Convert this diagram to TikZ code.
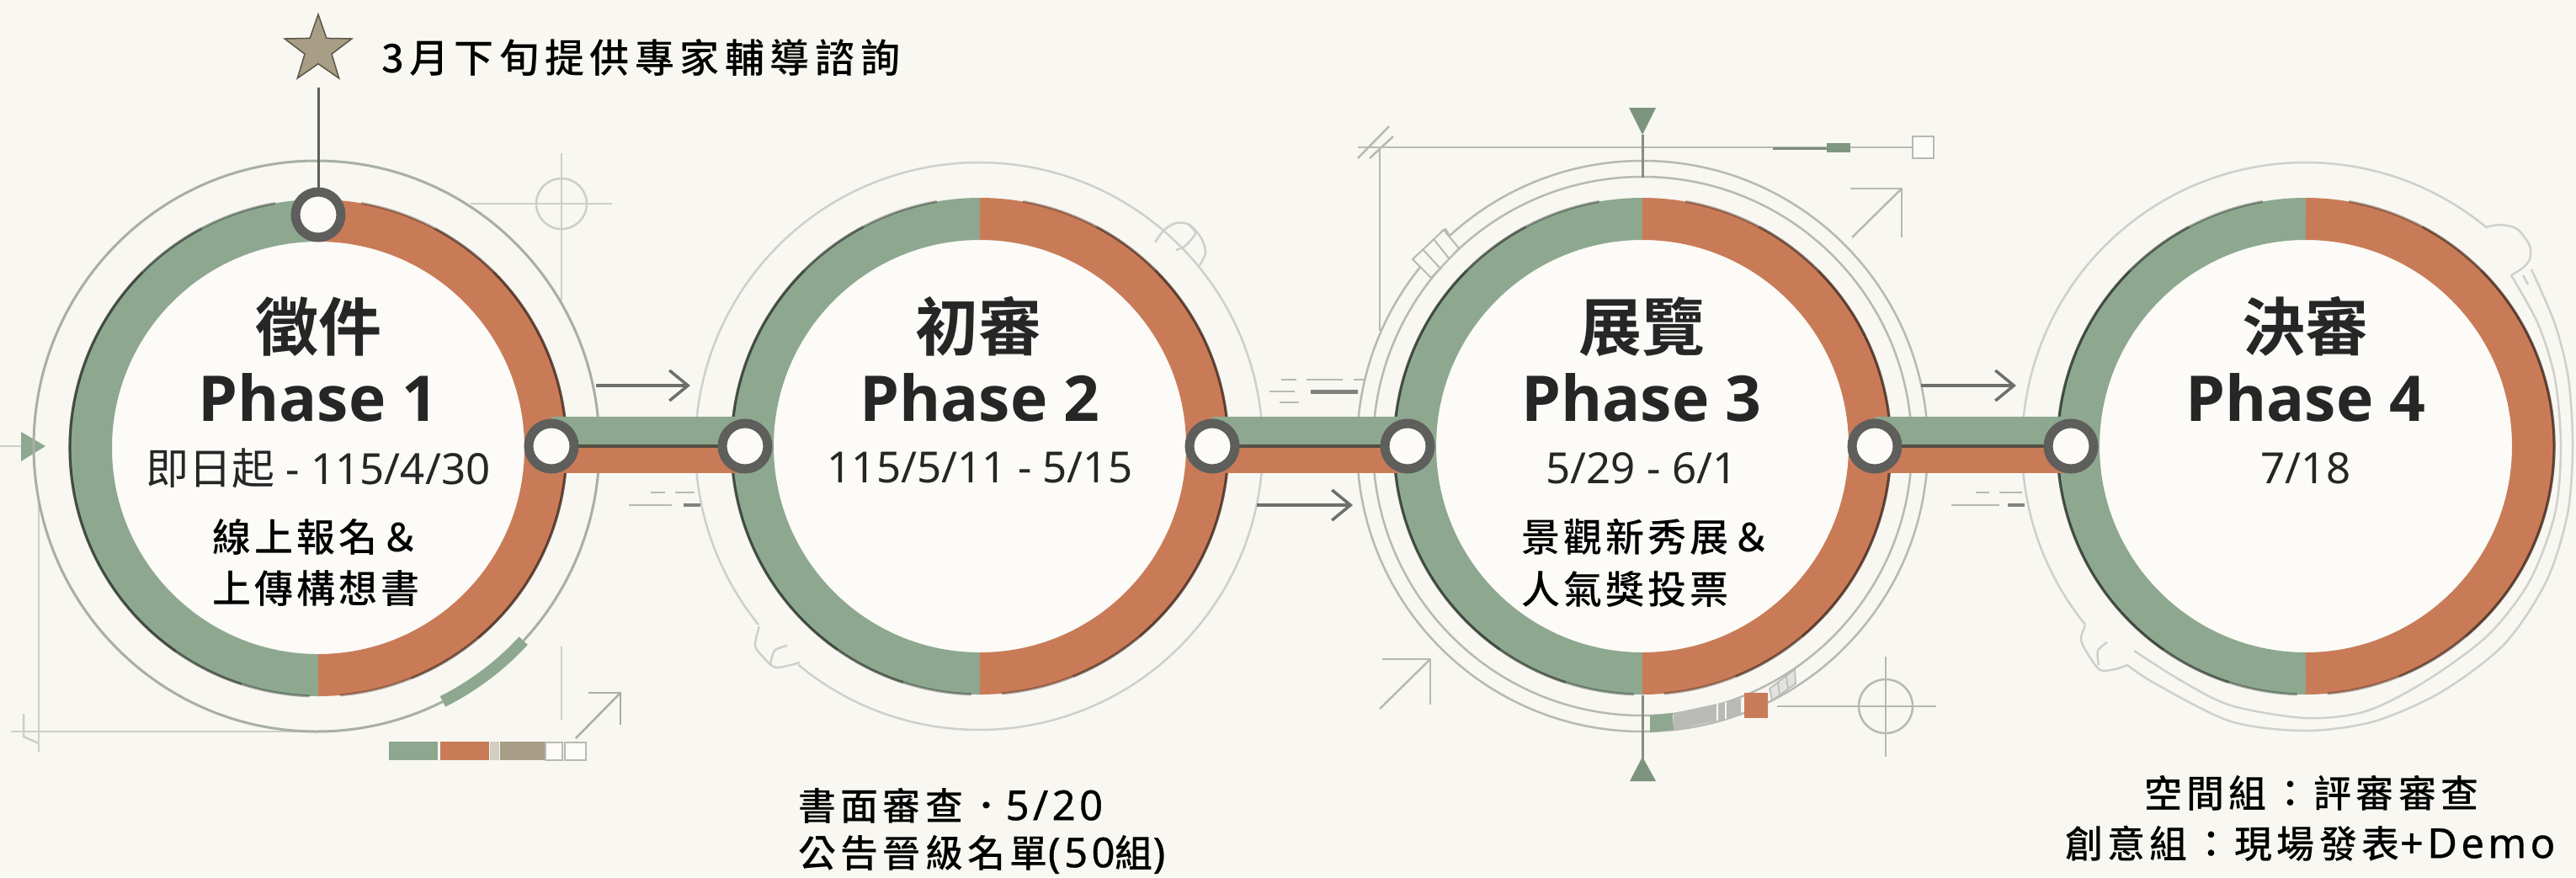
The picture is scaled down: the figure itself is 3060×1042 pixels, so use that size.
\documentclass[tikz,border=0pt]{standalone}
\usepackage{fontspec}
\usetikzlibrary{arrows.meta,shapes.geometric}
\setmainfont{Noto Sans}
\newfontfamily\cjkb[BoldFont={Noto Sans CJK TC Bold}]{Noto Sans CJK TC}
\newfontfamily\cjkr{Noto Sans CJK TC}
\newfontfamily\cjkm[LetterSpace=9]{Noto Sans CJK TC Medium}
\newfontfamily\cjkl[LetterSpace=12]{Noto Sans CJK TC Medium}
\newfontfamily\cjkw[LetterSpace=14]{Noto Sans CJK TC Medium}
\newfontfamily\latb{Open Sans}
\newfontfamily\latw[LetterSpace=9,FakeBold=0.7]{Noto Sans}
\newcommand\sztitle{\fontsize{75}{80}\selectfont}
\newcommand\szdate{\fontsize{51}{56}\selectfont}
\newcommand\sznote{\fontsize{46}{52}\selectfont}
\newcommand\szlow{\fontsize{45}{52}\selectfont}
\newcommand\szlat{\fontsize{49}{52}\selectfont}
\newcommand\ztitle[1]{{\cjkb\bfseries\sztitle #1}}
\newcommand\zphase[1]{{\latb\bfseries\sztitle #1}}
\definecolor{bgpaper}{HTML}{F8F7F2}
\definecolor{disc}{HTML}{FCFBF8}
\definecolor{pgreen}{HTML}{8DA88F}
\definecolor{porange}{HTML}{C97B58}
\definecolor{hubgray}{HTML}{5E5E5C}
\definecolor{paleline}{HTML}{CDCFC8}
\definecolor{ringa}{HTML}{A8AFA5}
\definecolor{ringb}{HTML}{CFCFCB}
\definecolor{ringc}{HTML}{B8B9B3}
\definecolor{tan}{HTML}{A89D85}
\definecolor{textdark}{HTML}{262626}
\pgfdeclarelayer{hubs}
\pgfsetlayers{main,hubs}
\tikzset{
  discnode/.style={circle,fill=disc,minimum size=490pt,inner sep=0pt},
  hub/.style={circle,draw=hubgray,line width=11pt,fill=disc,minimum size=54pt,inner sep=0pt},
  arcgreen/.style={line width=50pt,pgreen},
  arcorange/.style={line width=50pt,porange},
  edgegreen/.style={line width=3pt,color=black!75!pgreen,opacity=0.4},
  edgeorange/.style={line width=3pt,color=black!70!porange,opacity=0.4},
  bandgreen/.style={line width=35pt,pgreen},
  bandorange/.style={line width=32pt,porange},
  bandmid/.style={line width=3.5pt,color=black!50!tan},
  pale/.style={line width=2.5pt,paleline},
  ringone/.style={line width=3pt,ringa},
  ringtwo/.style={line width=2.5pt,ringb},
  ringthree/.style={line width=2.5pt,ringc},
  goarrow/.style={line width=3.5pt,color=hubgray!90,-{Straight Barb[length=22pt,width=36pt,line width=3.5pt]}},
  dashmark/.style={line width=2.5pt,ringc},
  dashthick/.style={line width=5pt,color=black!30!ringc},
  tri/.style={fill=black!12!pgreen},
  txt/.style={inner sep=0pt,outer sep=0pt,text=textdark},
  txtb/.style={inner sep=0pt,outer sep=0pt,text=black},
}
\begin{document}
\begin{tikzpicture}[x=1pt,y=-1pt]
\useasboundingbox (0,0) rectangle (3060,1042);
\fill[bgpaper] (0,0) rectangle (3060,1042);

% --- Phase 1 drafting marks
\draw[pale] (0,530) -- (25,530);
\fill[pgreen] (25,513) -- (54,530) -- (25,548) -- cycle;
\draw[pale] (46,593) -- (46,893);
\draw[pale] (13,869) -- (376,869);
\draw[pale] (28,848) -- (28,875) -- (46,883);
\draw[pale] (559,242) -- (727,242);
\draw[pale] (667,182) -- (667,357);
\draw[pale] (667,242) circle[radius=30pt];
\draw[pale] (667,768) -- (667,855);
\draw[line width=2.5pt,ringa] (684,877) -- (737,823);
\draw[line width=2.5pt,ringa] (699,823) -- (737,823) -- (737,861);
\fill[pgreen] (462,881) rectangle (520,903);
\fill[porange] (523,881) rectangle (581,903);
\fill[tan!50] (582,881) rectangle (593,903);
\fill[tan] (594,881) rectangle (648,903);
\draw[line width=1.5pt,ringc,fill=disc] (648,882) rectangle (668,903);
\draw[line width=1.5pt,ringc,fill=disc] (671,882) rectangle (696,903);
\draw[ringone] (376,530) ellipse[x radius=336pt,y radius=339pt];
\draw[line width=14pt,pgreen] ([shift={(-63.5:336pt and 339pt)}]376,530) arc[start angle=-63.5,end angle=-43,x radius=336pt,y radius=339pt];

% --- Phase 2 outline
\coordinate (c2) at (1163,530);
\draw[ringtwo] ([shift={(230.4:337pt)}]c2) arc[start angle=230.4,end angle=579,radius=337pt];
\draw[ringtwo] plot[smooth] coordinates {(1372,288) (1383,273) (1397,265) (1413,267) (1427,283) (1432,300) (1425,315)};
\draw[ringtwo] plot[smooth] coordinates {(1397,297) (1408,292) (1420,277) (1413,268)};
\draw[ringtwo] plot[smooth] coordinates {(902,744) (897,767) (908,782) (922,793) (950,787)};
\draw[ringtwo] plot[smooth] coordinates {(935,767) (920,773) (915,790)};

% --- Phase 3 outline and marks
\coordinate (c3) at (1951,530);
\draw[ringthree] (c3) circle[radius=339pt];
\draw[ringthree] (c3) circle[radius=320pt];
\draw[ringc,line width=2.5pt] (1613,175) -- (2272,175);
\draw[ringc,line width=2.5pt] (1639,175) -- (1639,393);
\draw[ringc,line width=2.5pt] (1613,188) -- (1650,150);
\draw[ringc,line width=2.5pt] (1627,188) -- (1655,162);
\draw[line width=2.5pt,ringc,fill=disc] (2272,162) rectangle (2297,188);
\draw[line width=3pt,black!15!pgreen] (2106,176) -- (2170,176);
\fill[black!10!pgreen] (2170,170) rectangle (2198,181);
\draw[line width=3pt,color=black!25!ringc] (1951,160) -- (1951,211);
\fill[tri] (1935,128) -- (1967,128) -- (1951,160) -- cycle;
\draw[line width=3pt,color=black!25!ringc] (1951,826) -- (1951,902);
\fill[tri] (1951,899) -- (1967,928) -- (1936,928) -- cycle;
\draw[line width=2pt,ringc,fill=bgpaper] (1678,308) -- (1715,273) -- (1733,295) -- (1700,330) -- cycle;
\draw[line width=2pt,ringc] (1690,296) -- (1712,320);
\draw[line width=2pt,ringc] (1703,284) -- (1722,308);
\draw[line width=2pt,ringc] (1712,275) -- (1717,272) -- (1722,280);
\draw[line width=2.5pt,ringc] (2198,224) -- (2259,224) -- (2259,282);
\draw[line width=2.5pt,ringc] (2200,282) -- (2259,224);
\draw[line width=2.5pt,ringc] (1642,783) -- (1699,783) -- (1699,837);
\draw[line width=2.5pt,ringc] (1639,842) -- (1699,783);
\draw[line width=2.5pt,ringc] (2111,839) -- (2300,839);
\draw[line width=2.5pt,ringc] (2240,780) -- (2240,899);
\draw[line width=2.5pt,ringc] (2240,839) circle[radius=32pt];
\fill[ringb!90!black] (1988,847) -- (2068,830) -- (2068,850) -- (1988,867) -- cycle;
\draw[line width=1.5pt,bgpaper] (2040,836) -- (2040,856);
\draw[line width=1.5pt,bgpaper] (2050,834) -- (2050,854);
\fill[pgreen] (1960,850) -- (1987,847) -- (1988,867) -- (1960,870) -- cycle;
\draw[line width=1.5pt,ringc,fill=ringb!60] (2102,818) -- (2132,795) -- (2133,812) -- (2105,832) -- cycle;
\draw[line width=1.5pt,ringc] (2112,811) -- (2114,826);
\draw[line width=1.5pt,ringc] (2122,803) -- (2124,819);
\fill[porange] (2072,823) rectangle (2100,853);

% --- Phase 4 outline
\coordinate (c4) at (2739,530);
\draw[ringtwo] ([shift={(219:337pt)}]c4) arc[start angle=219,end angle=50.5,radius=337pt];
\draw[ringtwo] plot[smooth] coordinates {(2953,270) (2970,267) (2990,272) (3005,292) (3005,308) (2997,318) (2983,327)};
\draw[ringtwo] (2997,327) -- (3003,338);
\draw[ringtwo] plot[smooth] coordinates {(3007,320) (3035,385) (3051,450) (3056,530) (3050,610) (3025,690) (2975,765) (2900,822) (2820,857) (2739,868) (2650,857) (2560,812) (2527,790)};
\draw[ringtwo] plot[smooth] coordinates {(2983,327) (3015,385) (3035,450) (3042,530) (3035,610) (3005,690) (2955,755) (2880,810) (2810,845) (2739,853) (2650,838) (2590,808) (2535,773)};
\draw[ringtwo] plot[smooth] coordinates {(2477,743) (2472,760) (2482,780) (2495,796) (2512,795) (2527,790)};
\draw[ringtwo] plot[smooth] coordinates {(2503,763) (2492,773) (2493,790)};

% --- between-phase arrows and dashes
\draw[goarrow] (708,458) -- (820,458);
\draw[goarrow] (1493,600) -- (1607,600);
\draw[goarrow] (2282,458) -- (2395,458);
\draw[dashmark] (773,585) -- (790,585);
\draw[dashmark] (802,585) -- (825,585);
\draw[dashmark] (747,600) -- (798,600);
\draw[dashthick,line width=3.5pt] (812,600) -- (832,600);
\draw[dashmark] (1522,451) -- (1540,451);
\draw[dashmark] (1552,451) -- (1595,451);
\draw[dashmark] (1608,451) -- (1622,451);
\draw[dashmark] (1508,465) -- (1538,465);
\draw[dashthick] (1557,465) -- (1613,465);
\draw[dashmark] (1520,478) -- (1543,478);
\draw[dashmark] (2347,585) -- (2363,585);
\draw[dashmark] (2375,585) -- (2402,585);
\draw[dashmark] (2318,600) -- (2375,600);
\draw[dashthick,line width=3.5pt] (2385,600) -- (2405,600);

% --- rings
\foreach \nm/\cx/\cy in {p1/378/532,p2/1164/530,p3/1951/530,p4/2739/530}{
  \node[discnode] (\nm) at (\cx,\cy) {};
  \draw[arcgreen] ([yshift=270pt]\nm.center) arc[start angle=90,delta angle=180,radius=270pt];
  \draw[arcorange] ([yshift=270pt]\nm.center) arc[start angle=90,delta angle=-180,radius=270pt];
  \draw[edgegreen] ([shift={(100:295pt)}]\nm.center) arc[start angle=100,end angle=268,radius=295pt];
  \draw[edgegreen] ([shift={(118:295pt)}]\nm.center) arc[start angle=118,end angle=252,radius=295pt];
  \draw[edgegreen] ([shift={(135:295pt)}]\nm.center) arc[start angle=135,end angle=235,radius=295pt];
  \draw[edgeorange] ([shift={(-85:295pt)}]\nm.center) arc[start angle=-85,end angle=80,radius=295pt];
  \draw[edgeorange] ([shift={(-68:295pt)}]\nm.center) arc[start angle=-68,end angle=62,radius=295pt];
  \draw[edgeorange] ([shift={(-50:295pt)}]\nm.center) arc[start angle=-50,end angle=45,radius=295pt];
}

% --- hubs
\begin{pgfonlayer}{hubs}
\node[hub] (n1t) at (378,255) {};
\node[hub] (n1r) at (655,530) {};
\node[hub] (n2l) at (885,530) {};
\node[hub] (n2r) at (1440,530) {};
\node[hub] (n3l) at (1672,530) {};
\node[hub] (n3r) at (2227,530) {};
\node[hub] (n4l) at (2460,530) {};
\end{pgfonlayer}

% --- bands between hubs
\foreach \aa/\bb in {n1r/n2l,n2r/n3l,n3r/n4l}{
  \draw[bandgreen] ([yshift=17.5pt]\aa.center) -- ([yshift=17.5pt]\bb.center);
  \draw[bandorange] ([yshift=-16pt]\aa.center) -- ([yshift=-16pt]\bb.center);
  \draw[bandmid] (\aa.center) -- (\bb.center);
}

% --- star
\node[star,star points=5,star point ratio=2.5,minimum size=84pt,inner sep=0pt,fill=tan,draw=black!45!tan,line width=1.5pt] (starnode) at (378,59) {};
\coordinate (stemtop) at (378,104);
\draw[line width=3pt,hubgray] (stemtop) -- (n1t.north);
\node[txtb,anchor=west] (startext) at (453,68) {\cjkw\fontsize{47}{52}\selectfont 3月下旬提供專家輔導諮詢};

% --- phase labels
\node[txt] (t1a) at (378,388) {\ztitle{徵件}};
\node[txt] (t1b) at (378,472) {\zphase{Phase 1}};
\node[txt] (t1c) at (378,556) {\szdate{\cjkr 即日起} - 115/4/30};
\node[txtb,anchor=west] (t1d) at (252,638) {\cjkm\sznote 線上報名＆};
\node[txtb,anchor=west] (t1e) at (252,699) {\cjkm\sznote 上傳構想書};

\node[txt] (t2a) at (1162,388) {\ztitle{初審}};
\node[txt] (t2b) at (1164,472) {\zphase{Phase 2}};
\node[txt] (t2c) at (1164,556) {\szdate 115/5/11 - 5/15};

\node[txt] (t3a) at (1950,388) {\ztitle{展覽}};
\node[txt] (t3b) at (1950,472) {\zphase{Phase 3}};
\node[txt] (t3c) at (1950,556) {\szdate 5/29 - 6/1};
\node[txtb,anchor=west] (t3d) at (1807,638) {\cjkm\sznote 景觀新秀展＆};
\node[txtb,anchor=west] (t3e) at (1807,700) {\cjkm\sznote 人氣獎投票};

\node[txt] (t4a) at (2738,388) {\ztitle{決審}};
\node[txt] (t4b) at (2739,472) {\zphase{Phase 4}};
\node[txt] (t4c) at (2739,556) {\szdate 7/18};

% --- notes under phases
\node[txtb,anchor=west] (n2a) at (948,957) {\cjkl\szlow 書面審查．{\latw\szlat 5/20}};
\node[txtb,anchor=west] (n2b) at (948,1015) {\cjkl\szlow 公告晉級名單{\latw\szlat (50}組{\latw\szlat )}};
\node[txtb,anchor=west] (n4a) at (2547,942) {\cjkl\szlow 空間組：評審審查};
\node[txtb,anchor=west] (n4b) at (2453,1002) {\cjkl\szlow 創意組：現場發表{\latw\szlat +Demo}};
\end{tikzpicture}
\end{document}
